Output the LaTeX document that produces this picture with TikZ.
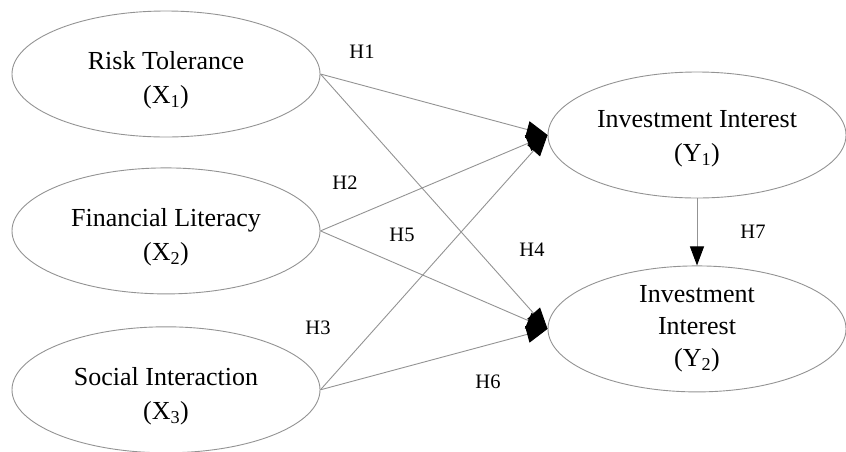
\documentclass[tikz,border=0pt]{standalone}
\usepackage{fontspec}
\setmainfont{Liberation Serif}
\usetikzlibrary{positioning, arrows.meta, shapes.geometric}
\newcommand{\lift}[1]{\rule{0pt}{#1}}
\tikzset{
  latent/.style={
    draw=gray!85,
    ellipse,
    line width=0.9pt,
    minimum width=308pt,
    minimum height=126pt,
    inner sep=0pt,
    align=center,
    font=\fontsize{26}{34}\selectfont
  },
  link/.style={
    draw=gray!85,
    line width=0.9pt,
    -{Triangle[length=21pt, width=17pt, color=black]}
  },
  hyp/.style={font=\fontsize{20.5}{24}\selectfont}
}

\begin{document}
\begin{tikzpicture}[x=1pt, y=-1pt]
      \useasboundingbox (0,0) rectangle (846,451);

      \node[latent] (x1) at (166,74) {\lift{31pt}Risk Tolerance\\(X\textsubscript{1})};
      \node[latent, below=30pt of x1] (x2) {\lift{31pt}Financial Literacy\\(X\textsubscript{2})};
      \node[latent, below=32pt of x2] (x3) {\lift{31pt}Social Interaction\\(X\textsubscript{3})};

      \node[latent, minimum width=298pt] (y1) at (697,135) {\lift{25pt}Investment Interest\\(Y\textsubscript{1})};
      \node[latent, minimum width=298pt, below=67pt of y1, font=\fontsize{26}{32}\selectfont] (y2) {Investment\\Interest\\(Y\textsubscript{2})};

      % Hipotesis
      \node[hyp] (h1) at (362,52) {H1};
      \node[hyp] (h2) at (345,183) {H2};
      \node[hyp] (h3) at (318,328) {H3};
      \node[hyp] (h4) at (532,250) {H4};
      \node[hyp] (h5) at (402,235) {H5};
      \node[hyp] (h6) at (488,382) {H6};
      \node[hyp] (h7) at (753,232) {H7};

      % Panah
      \draw[link] (x1.east) -- (y1.west);
      \draw[link] (x2.east) -- (y1.west);
      \draw[link] (x3.east) -- (y1.west);
      \draw[link] (x1.east) -- (y2.west);
      \draw[link] (x2.east) -- (y2.west);
      \draw[link] (x3.east) -- (y2.west);
      \draw[link, -{Triangle[length=19pt, width=14pt, color=black]}] (y1.south) -- (y2.north);
    \end{tikzpicture}
\end{document}
